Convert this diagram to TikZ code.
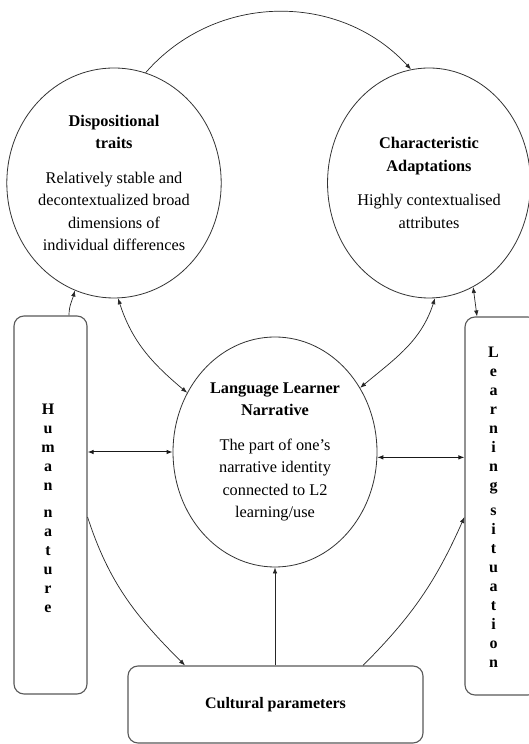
\documentclass[tikz,border=0pt]{standalone}
\usepackage{fontspec}
\setmainfont{Liberation Serif}
\usetikzlibrary{shapes.geometric,arrows.meta}
\begin{document}
\begin{tikzpicture}[x=1pt,y=1pt,
  txt/.style={font=\fontsize{16.3}{22.5}\selectfont, align=center},
  oval/.style={ellipse, draw=black!80, line width=0.8pt, minimum width=200pt, minimum height=230pt, inner sep=0pt, txt},
  box/.style={rectangle, draw=black!65, line width=1.1pt, rounded corners=10pt, inner sep=0pt},
  vtxt/.style={font=\bfseries\fontsize{16}{19}\selectfont, align=center},
  conn/.style={draw=black!85, line width=0.7pt, >={Latex[length=6pt,width=4.5pt]}},
  hconn/.style={conn, line width=1pt, draw=black!90},
]
\useasboundingbox (0,0) rectangle (529,744);
\fill[white] (0,0) rectangle (529,744);

\node[oval] (disp) at (114,561) {\textbf{Dispositional}\\\textbf{traits}\\[12pt]Relatively stable and\\decontextualized broad\\dimensions of\\individual differences};
\node[oval, minimum width=198pt] (char) at (429,561) {\textbf{Characteristic}\\\textbf{Adaptations}\\[12pt]Highly contextualised\\attributes};
\node[oval, minimum width=204pt] (lln) at (275,292) {\textbf{Language Learner}\\\textbf{Narrative}\\[12pt]The part of one’s\\narrative identity\\connected to L2\\learning/use};

\node[box, minimum width=73pt, minimum height=378pt] (human) at (50.5,239) {};
\node[box, minimum width=73pt, minimum height=378pt] (learn) at (501.5,238) {};
\node[box, minimum width=295pt, minimum height=77pt, font=\bfseries\fontsize{16}{19}\selectfont] (cult) at (275.5,39.5) {Cultural parameters};

\node[vtxt] (humantxt) at (48,236) {H\\u\\m\\a\\n\\[8pt]n\\a\\t\\u\\r\\e};
\node[vtxt] (learntxt) at (493.5,237) {L\\e\\a\\r\\n\\i\\n\\g\\[6pt]s\\i\\t\\u\\a\\t\\i\\o\\n};

\draw[conn,->] (disp.74) .. controls (216,752) and (340,752) .. (char.99);
\draw[conn,->] ([xshift=18.5pt]human.north) to[out=90,in=-105] (disp.-110);
\draw[conn,<->] (disp.-88) to[out=-72,in=140] (lln.146);
\draw[conn,<->] (char.-87) to[out=-108,in=40] (lln.37);
\draw[conn,<->] (char.-67) -- ([xshift=-24.5pt]learn.north);
\draw[hconn,<->] (human.east |- lln.west) -- (lln.west);
\draw[hconn,<->] (lln.-3) -- (lln.-3 -| learn.west);
\draw[conn,->] ([yshift=-12pt]human.east) to[out=-72,in=135] ([xshift=-90.5pt]cult.north);
\draw[conn,->] ([xshift=87.5pt]cult.north) to[out=45,in=-114] ([yshift=-11pt]learn.west);
\draw[conn,->] (cult.north -| lln.south) -- (lln.south);
\end{tikzpicture}
\end{document}
